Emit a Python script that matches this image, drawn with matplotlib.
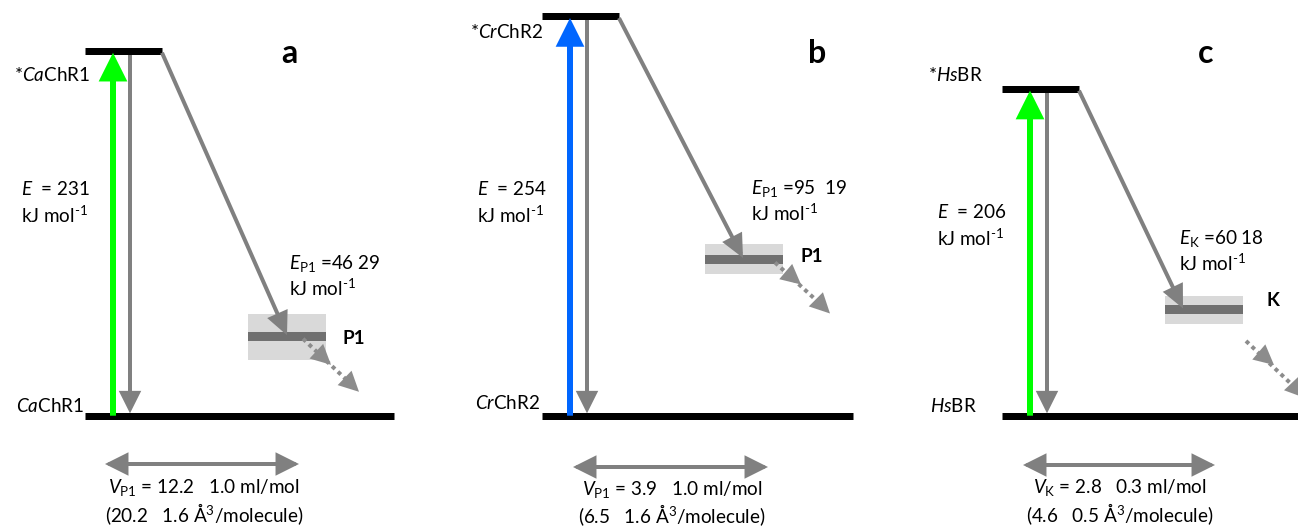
import matplotlib
matplotlib.use("Agg")
import matplotlib.pyplot as plt
from matplotlib.patches import FancyArrowPatch, Rectangle, Polygon

plt.rcParams['font.family'] = ['Lato', 'DejaVu Sans']
plt.rcParams['mathtext.fontset'] = 'custom'
plt.rcParams['mathtext.rm'] = 'Lato'
plt.rcParams['mathtext.it'] = 'Lato:italic'
plt.rcParams['mathtext.bf'] = 'Lato:bold'

# ---- data (kJ/mol) ----
panels = ["a", "b", "c"]
excited_level = [231, 253, 207]          # drawn height of excited state
intermediate_level = [50, 99, 67]        # drawn height of intermediate
intermediate_err = [29, 19, 18]          # band height (total)
intermediate_names = ["P1", "P1", "K"]
excite_colors = ["#00ff00", "#0066ff", "#00ff00"]
excited_labels = [r"*$\mathit{Ca}$ChR1", r"*$\mathit{Cr}$ChR2", r"*$\mathit{Hs}$BR"]
ground_labels = [r"$\mathit{Ca}$ChR1", r"$\mathit{Cr}$ChR2", r"$\mathit{Hs}$BR"]
energy_labels = [r"$\mathit{E}$  = 231", r"$\mathit{E}$  = 254", r"$\mathit{E}$  = 206"]
inter_energy_labels = [r"$\mathit{E}_{\mathrm{P1}}$ =46 29", r"$\mathit{E}_{\mathrm{P1}}$ =95  19",
                       r"$\mathit{E}_{\mathrm{K}}$ =60 18"]
volume_labels = [r"$\mathit{V}_{\mathrm{P1}}$ = 12.2   1.0 ml/mol", r"$\mathit{V}_{\mathrm{P1}}$ = 3.9   1.0 ml/mol",
                 r"$\mathit{V}_{\mathrm{K}}$ = 2.8   0.3 ml/mol"]
volume_labels2 = [r"(20.2   1.6 Å$^{3}$/molecule)", r"(6.5   1.6 Å$^{3}$/molecule)",
                  r"(4.6   0.5 Å$^{3}$/molecule)"]
unit_label = r"kJ mol$^{\text{-1}}$"

# ---- layout ----
W, H = 1298, 530
PX = 1.578            # px per kJ/mol
G0 = 415.7            # pixel row of ground level
fig = plt.figure(figsize=(W / 100, H / 100), dpi=100)
ax = fig.add_axes([0, 0, 1, 1])
ax.set_xlim(0, W)
ax.set_ylim((G0 - H) / PX, G0 / PX)
ax.axis("off")

def ypx(p):
    return (G0 - p) / PX

x0s = [85, 542, 1002]
ground_len = [309, 311, 310]
diag_end_dx = [202, 201, 181]
dot_start = [(218, 2), (233, 3), (244, 31)]    # dx, dy (px below level)
dot_mid = [(246, 28), (259, 25), (272, 55)]
dot_end = [(274, 55), (288, 54), (303, 88)]

def arrow(p0, p1, color, lw_px, hl_px, hw_px, z=3):
    a = FancyArrowPatch(p0, p1, arrowstyle=f"-|>,head_length={hl_px*0.72},head_width={hw_px*0.72/2}",
                        mutation_scale=1, color=color, lw=lw_px * 0.72,
                        shrinkA=0, shrinkB=0, zorder=z, joinstyle='miter', capstyle='butt')
    ax.add_patch(a)

def darrow(p0, p1, color, lw_px, hl_px, hw_px):
    a = FancyArrowPatch(p0, p1, arrowstyle=f"<|-|>,head_length={hl_px*0.72},head_width={hw_px*0.72/2}",
                        mutation_scale=1, color=color, lw=lw_px * 0.72,
                        shrinkA=0, shrinkB=0, zorder=3, joinstyle='miter')
    ax.add_patch(a)

def head(tip_px, from_px, color, L=20, Wd=20):
    tx, ty = tip_px
    bx, by = from_px
    dx, dy = tx - bx, ty - by
    n = (dx * dx + dy * dy) ** 0.5
    ux, uy = dx / n, dy / n
    px_, py_ = -uy, ux
    cx, cy = tx - ux * L, ty - uy * L
    pts = [(tx, ypx(ty)),
           (cx + px_ * Wd / 2, ypx(cy + py_ * Wd / 2)),
           (cx - px_ * Wd / 2, ypx(cy - py_ * Wd / 2))]
    ax.add_patch(Polygon(pts, closed=True, color=color, lw=0, zorder=4))

gray = "#808080"
for i in range(3):
    x0 = x0s[i]
    Ee = excited_level[i]
    Ei = intermediate_level[i]
    er = intermediate_err[i]
    # ground and excited levels
    ax.plot([x0, x0 + ground_len[i]], [0, 0], color="black", lw=7 * 0.72, solid_capstyle="butt", zorder=4)
    ax.plot([x0, x0 + 77], [Ee, Ee], color="black", lw=7 * 0.72, solid_capstyle="butt", zorder=4)
    # excitation arrow
    arrow((x0 + 28, 0), (x0 + 28, Ee - 1), excite_colors[i], 6, 19, 19, z=5)
    # relaxation arrow
    arrow((x0 + 45, Ee - 2), (x0 + 45, 1.5), gray, 4, 16, 16)
    # diagonal
    arrow((x0 + 77, Ee - 1), (x0 + diag_end_dx[i], Ei + 1), gray, 4, 17, 16, z=6)
    # intermediate band
    ax.add_patch(Rectangle((x0 + 163, Ei - er / 2), 78, er, color="#d9d9d9", lw=0, zorder=2))
    ax.add_patch(Rectangle((x0 + 163, Ei - 4.5 / PX), 78, 9 / PX, color="#707070", lw=0, zorder=2.5))
    # dotted decay
    sx, sy = dot_start[i]
    mx, my = dot_mid[i]
    ex, ey = dot_end[i]
    yi_px = G0 - Ei * PX
    ax.plot([x0 + sx, x0 + ex - 8], [ypx(yi_px + sy), ypx(yi_px + ey - 8 * (ey - my) / (ex - mx))],
            color="#8c8c8c", lw=4 * 0.72, linestyle=(0, (1, 1)), dash_capstyle="butt", zorder=3)
    head((x0 + mx, yi_px + my), (x0 + sx, yi_px + sy), "#8c8c8c")
    head((x0 + ex, yi_px + ey), (x0 + mx, yi_px + my), "#8c8c8c")

fs = 13.6
# text (layout positions in pixels)
ex_lab_pos = [(90, 75), (543, 32), (983, 75)]
gr_lab_pos = [(84, 406), (540, 403), (977, 406)]
en_lab_pos = [(21, 189), (477, 189), (937, 212)]
ie_lab_pos = [(289, 263), (751, 188), (1179, 238)]
nm_pos = [(343, 338), (801, 256), (1267, 300)]
pl_pos = [(289, 53), (817, 53), (1206, 53)]
v_arrow = [(105, 299, 464), (573, 768, 467), (1023, 1215, 465)]
v_text = [(204, 488), (672, 489), (1120, 488)]
for i in range(3):
    x, y = ex_lab_pos[i]
    ax.text(x, ypx(y), excited_labels[i], fontsize=fs, ha="right", va="center")
    x, y = gr_lab_pos[i]
    ax.text(x, ypx(y), ground_labels[i], fontsize=fs, ha="right", va="center")
    x, y = en_lab_pos[i]
    ax.text(x, ypx(y), energy_labels[i], fontsize=fs, ha="left", va="center")
    ax.text(x, ypx(y + 26), unit_label, fontsize=fs, ha="left", va="center")
    x, y = ie_lab_pos[i]
    ax.text(x, ypx(y), inter_energy_labels[i], fontsize=fs, ha="left", va="center")
    ax.text(x, ypx(y + 25), unit_label, fontsize=fs, ha="left", va="center")
    x, y = nm_pos[i]
    ax.text(x, ypx(y), intermediate_names[i], fontsize=fs, ha="left", va="center", fontweight="bold")
    x, y = pl_pos[i]
    ax.text(x, ypx(y), panels[i], fontsize=23, ha="center", va="center", fontweight="bold")
    xa, xb, y = v_arrow[i]
    darrow((xa, ypx(y)), (xb, ypx(y)), gray, 4, 17, 17)
    x, y = v_text[i]
    ax.text(x, ypx(y), volume_labels[i], fontsize=fs, ha="center", va="center")
    ax.text(x, ypx(y + 26), volume_labels2[i], fontsize=fs, ha="center", va="center")

fig.savefig("out.png", dpi=100)
